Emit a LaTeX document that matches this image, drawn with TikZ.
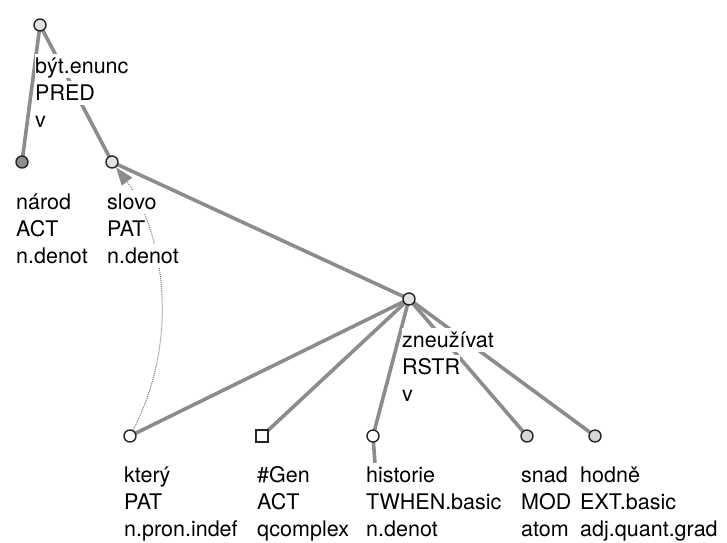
\documentclass[tikz,border=0pt]{standalone}
\usepackage{fontspec}
\setmainfont{TeX Gyre Heros}
\usetikzlibrary{arrows.meta}
\definecolor{edgegray}{HTML}{8C8C8C}
\definecolor{corefgray}{HTML}{777777}
\definecolor{nodelight}{HTML}{E2E2E2}
\definecolor{nodemid}{HTML}{D6D6D6}
\definecolor{nodedark}{HTML}{8E8E8E}
\setlength\fboxsep{0pt}
% one label line on its own white strip, so edges are hidden line by line
\newcommand\tline[1]{\colorbox{white}{\rule[-5pt]{0pt}{24pt}#1}}
\pgfdeclarelayer{edges}
\pgfdeclarelayer{labels}
\pgfsetlayers{edges,labels,main}
\begin{document}
\begin{tikzpicture}[x=1pt,y=-1pt,
  tnode/.style={circle, draw=black!85, line width=1.4pt, minimum size=12pt, inner sep=0pt},
  sqnode/.style={rectangle, draw=black!85, line width=1.4pt, minimum size=12pt, inner sep=0pt, fill=white},
  edge/.style={draw=edgegray, line width=3.6pt},
  coref/.style={draw=corefgray, line width=1pt, dash pattern=on 1pt off 1pt,
    -{Triangle[length=18pt,width=13pt,color=edgegray]}},
  lbl/.style={anchor=north west, inner sep=0pt, align=left, font=\fontsize{21.5}{27}\selectfont}]
\useasboundingbox (0,0) rectangle (727,542);

% tree nodes
\node[tnode, fill=nodelight] (root)  at (40,25)  {};
\node[tnode, fill=nodedark]  (narod) at (22,162) {};
\node[tnode, fill=nodelight] (slovo) at (112,162) {};
\node[tnode, fill=nodelight] (zneu)  at (409,299) {};
\node[tnode, fill=white]     (ktery) at (130,436) {};
\node[sqnode]                (gen)   at (262,436) {};
\node[tnode, fill=white]     (hist)  at (373,436) {};
\node[tnode, fill=nodemid]   (snad)  at (527,436) {};
\node[tnode, fill=nodemid]   (hodne) at (595,436) {};
\coordinate (histlow) at (376,478);

% labels
\begin{pgfonlayer}{labels}
\node[lbl] (lroot)  at (35,54)   {\tline{být.enunc}\\\tline{PRED}\\\tline{v}};
\node[lbl] (lnarod) at (16,190)  {\tline{národ}\\\tline{ACT}\\\tline{n.denot}};
\node[lbl] (lslovo) at (107,190) {\tline{slovo}\\\tline{PAT}\\\tline{n.denot}};
\node[lbl] (lzneu)  at (402,328) {\tline{zneužívat}\\\tline{RSTR}\\\tline{v}};
\node[lbl] (lktery) at (124,463) {\tline{který}\\\tline{PAT}\\\tline{n.pron.indef}};
\node[lbl] (lgen)   at (257,463) {\tline{\#Gen}\\\tline{ACT}\\\tline{qcomplex}};
\node[lbl] (lhist)  at (366,463) {\tline{historie}\\\tline{TWHEN.basic}\\\tline{n.denot}};
\node[lbl] (lsnad)  at (521,463) {\tline{snad}\\\tline{MOD}\\\tline{atom}};
\node[lbl] (lhodne) at (580,463) {\tline{hodně}\\\tline{EXT.basic}\\\tline{adj.quant.grad}};
\end{pgfonlayer}

% edges
\begin{pgfonlayer}{edges}
\draw[edge] (root.center) -- (narod.center);
\draw[edge] (root.center) -- (slovo.center);
\draw[edge] (slovo.center) -- (zneu.center);
\draw[edge] (zneu.center) -- (ktery.center);
\draw[edge] (zneu.center) -- (gen.center);
\draw[edge] (zneu.center) -- (hist.center);
\draw[edge] (zneu.center) -- (snad.center);
\draw[edge] (zneu.center) -- (hodne.center);
\draw[edge] (hist.center) -- (histlow);
\draw[coref] (ktery) .. controls (185,330) and (158,222) .. (slovo);
\end{pgfonlayer}
\end{tikzpicture}
\end{document}
